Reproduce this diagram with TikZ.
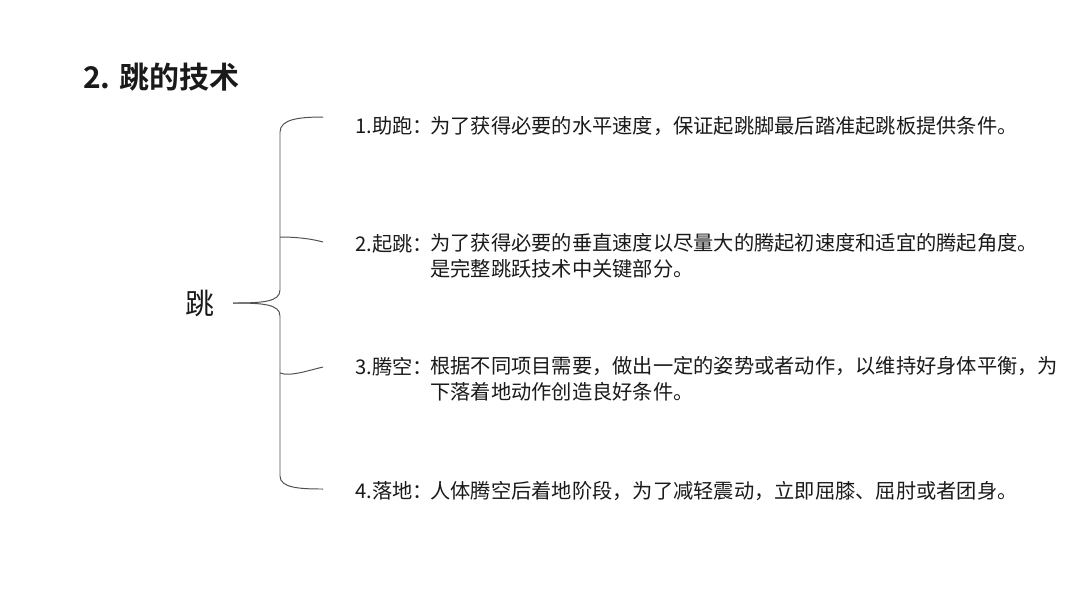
\documentclass[tikz,border=0pt]{standalone}
\usepackage{fontspec}
\setmainfont{Noto Sans CJK SC}[BoldFont={Noto Sans CJK SC Bold}]
\definecolor{inkc}{HTML}{1A1A1A}
\definecolor{bracec}{HTML}{505050}
\tikzset{
  title/.style={anchor=base west, inner sep=0pt, font=\fontsize{21.3}{25}\selectfont\bfseries, text=inkc},
  root/.style={inner sep=0pt, font=\fontsize{20.6}{24}\selectfont, text=inkc},
  label/.style={anchor=base west, inner sep=0pt, font=\fontsize{14.4}{17.8}\selectfont, text=inkc},
  body/.style={anchor=base west, inner sep=0pt, align=left, font=\fontsize{14.4}{17.8}\selectfont, text=inkc},
  brace/.style={draw=bracec, line width=0.7pt}
}
\begin{document}
\begin{tikzpicture}[x=0.025cm, y=-0.025cm]
    \useasboundingbox[fill=white] (0,0) rectangle (1080,608);
    % Nodes (two-line bodies sit on the baseline of their last line)
    \node[title] (head) at (83,88) {2. 跳的技术};
    \node[root]  (jump) at (200,303) {跳};
    \node[label] (l1) at (355,133) {1.助跑：};
    \node[body]  (b1) at (430,133) {为了获得必要的水平速度，保证起跳脚最后踏准起跳板提供条件。};
    \node[label] (l2) at (355,251) {2.起跳：};
    \node[body]  (b2) at (430,276) {为了获得必要的垂直速度以尽量大的腾起初速度和适宜的腾起角度。\\是完整跳跃技术中关键部分。};
    \node[label] (l3) at (355,374) {3.腾空：};
    \node[body]  (b3) at (430,399) {根据不同项目需要，做出一定的姿势或者动作，以维持好身体平衡，为\\下落着地动作创造良好条件。};
    \node[label] (l4) at (355,498) {4.落地：};
    \node[body]  (b4) at (430,498) {人体腾空后着地阶段，为了减轻震动，立即屈膝、屈肘或者团身。};
    % Brace points
    \coordinate (tip) at (233,303);
    \coordinate (s2) at (280,237);
    \coordinate (s3) at (280,373);
    \coordinate (e1) at (323,117);
    \coordinate (e2) at (323,242);
    \coordinate (e3) at (323,367);
    \coordinate (e4) at (323,489);
    % Edges
    \draw[brace] (tip) .. controls (262,303) and (280,302) .. (280,290)
      -- (280,132) .. controls (280,119) and (300,117) .. (e1);
    \draw[brace] (tip) .. controls (262,303) and (280,304) .. (280,316)
      -- (280,476) .. controls (280,488) and (300,489) .. (e4);
    \draw[brace] (s2) .. controls (298,237) and (312,239) .. (e2);
    \draw[brace] (s3) .. controls (290,377) and (310,370) .. (e3);
\end{tikzpicture}
\end{document}
